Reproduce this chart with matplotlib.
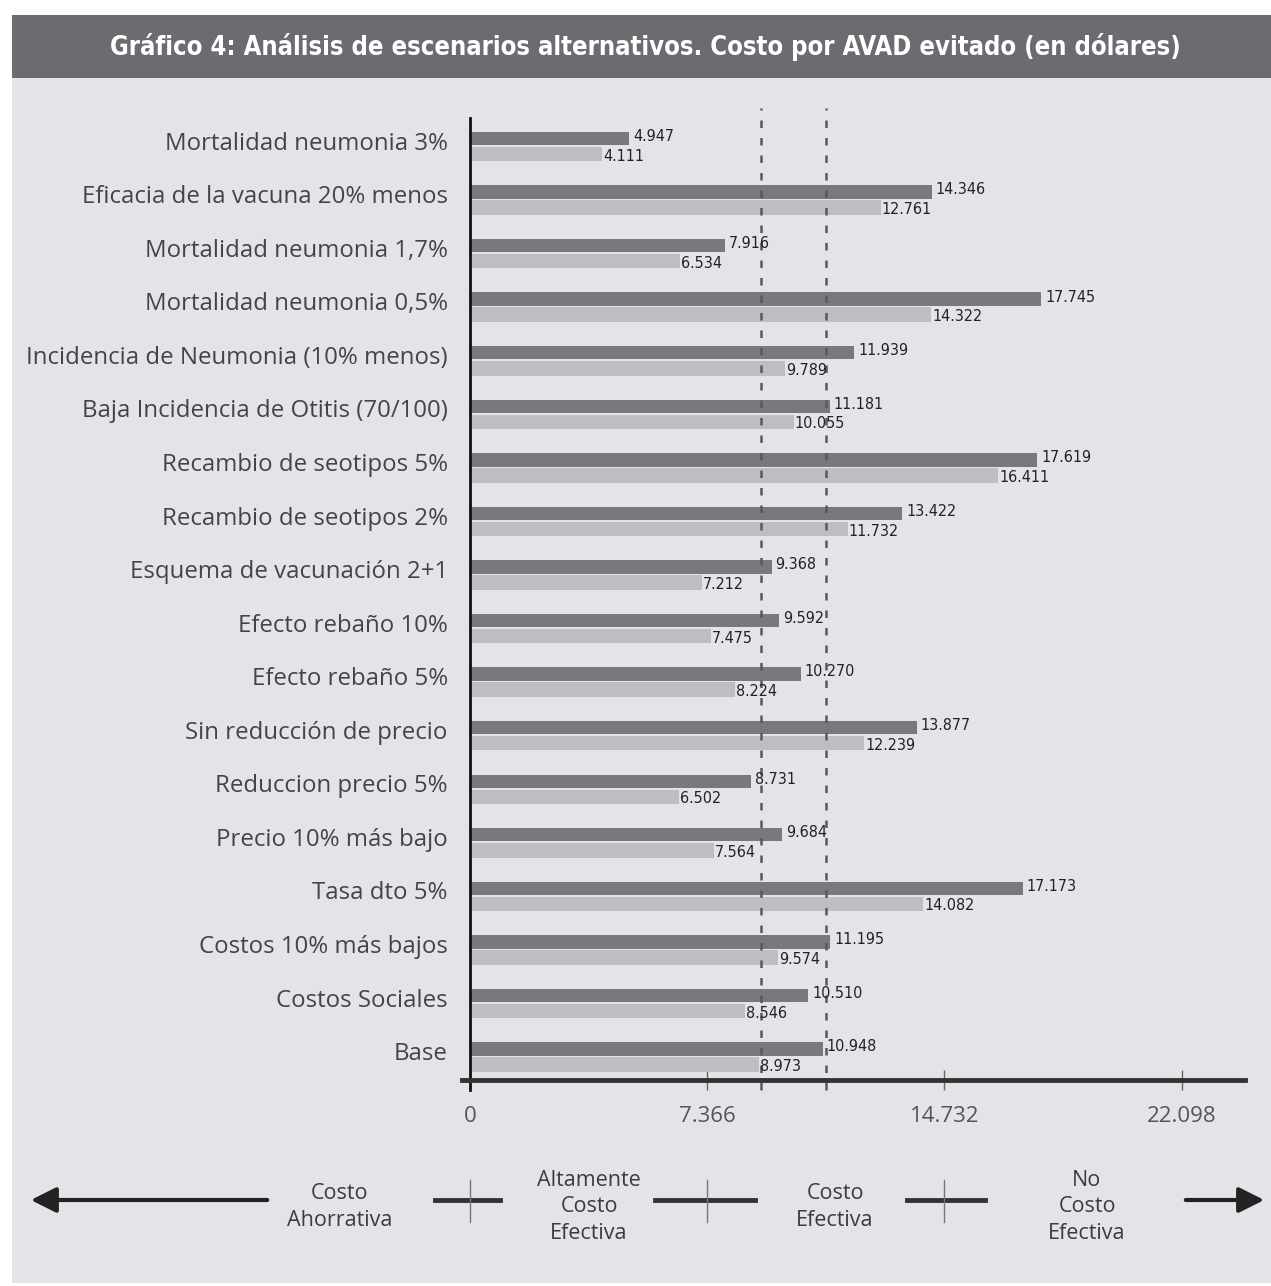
import matplotlib
matplotlib.use("Agg")
import matplotlib.pyplot as plt
from matplotlib.patches import Rectangle, FancyArrowPatch
from matplotlib.lines import Line2D
import matplotlib.transforms as mtransforms

# Scenario data (cost per DALY averted, thousands of dollars)
categories = [
    "Mortalidad neumonia 3%",
    "Eficacia de la vacuna 20% menos",
    "Mortalidad neumonia 1,7%",
    "Mortalidad neumonia 0,5%",
    "Incidencia de Neumonia (10% menos)",
    "Baja Incidencia de Otitis (70/100)",
    "Recambio de seotipos 5%",
    "Recambio de seotipos 2%",
    "Esquema de vacunación 2+1",
    "Efecto rebaño 10%",
    "Efecto rebaño 5%",
    "Sin reducción de precio",
    "Reduccion precio 5%",
    "Precio 10% más bajo",
    "Tasa dto 5%",
    "Costos 10% más bajos",
    "Costos Sociales",
    "Base",
]
series_dark = [4.947, 14.346, 7.916, 17.745, 11.939, 11.181, 17.619, 13.422,
               9.368, 9.592, 10.270, 13.877, 8.731, 9.684, 17.173, 11.195,
               10.510, 10.948]
series_light = [4.111, 12.761, 6.534, 14.322, 9.789, 10.055, 16.411, 11.732,
                7.212, 7.475, 8.224, 12.239, 6.502, 7.564, 14.082, 9.574,
                8.546, 8.973]
x_ticks = [7.366, 14.732, 22.098]
x_tick_labels = ["0", "7.366", "14.732", "22.098"]
thresholds = [9.05, 11.05]
zones = ["Costo\nAhorrativa", "Altamente\nCosto\nEfectiva", "Costo\nEfectiva",
         "No\nCosto\nEfectiva"]

W, H = 1271, 1286
BG = "#e4e4e8"
DARK = "#78787d"
LIGHT = "#bdbdc2"
TEXT = "#444448"
NARROW = "DejaVu Sans"
LABEL_FONT = ["Open Sans", "DejaVu Sans"]


def fx(px):
    return px / W


def fy(py):
    return 1 - py / H


fig = plt.figure(figsize=(W / 100, H / 100), dpi=100)
fig.patch.set_facecolor("white")
renderer = fig.canvas.get_renderer()

# Panel background and title band
fig.add_artist(Rectangle((fx(12), fy(1283)), 1 - fx(12), fy(78) - fy(1283),
                         transform=fig.transFigure, facecolor=BG, edgecolor="none", zorder=0))
fig.add_artist(Rectangle((fx(12), fy(78)), 1 - fx(12), fy(15) - fy(78),
                         transform=fig.transFigure, facecolor="#6b6b70", edgecolor="none", zorder=0))
title = fig.text(fx(645), fy(47),
                 "Gráfico 4: Análisis de escenarios alternativos. Costo por AVAD evitado (en dólares)",
                 color="white", fontsize=20, fontweight="bold", family=NARROW,
                 fontstretch="condensed", ha="center", va="center")
# shrink the title so it spans the band like a condensed face would
tw = title.get_window_extent(renderer).width
title.set_fontsize(20 * min(1.0, 1075 / tw))

ax = fig.add_axes([fx(470), fy(1080), fx(1245) - fx(470), fy(118) - fy(1080)])
ax.set_facecolor("none")

n = len(categories)
ypos = [n - 1 - i for i in range(n)]
light_off = 0.29

ax.barh(ypos, series_dark, height=0.25, color=DARK, zorder=2)
ax.barh([y - light_off for y in ypos], series_light, height=0.27, color=LIGHT, zorder=2)

for y, vd, vl in zip(ypos, series_dark, series_light):
    ax.text(vd + 0.12, y + 0.04, f"{vd:.3f}", fontsize=11.5, family=NARROW,
            fontstretch="condensed", color="#222", ha="left", va="center", zorder=4)
    ax.text(vl + 0.03, y - light_off - 0.04, f"{vl:.3f}", fontsize=11.5, family=NARROW,
            fontstretch="condensed", color="#222", ha="left", va="center", zorder=4)

for t in thresholds:
    ax.axvline(t, ymin=-0.01, ymax=1.01, color="#59595d", lw=1.8,
               linestyle=(0, (3, 4)), zorder=3, clip_on=False)

ax.set_xlim(0, 24.07)
ax.set_ylim(-0.579, n - 1 + 0.383)

ax.set_yticks([y - 0.04 for y in ypos])
ax.set_yticklabels(categories, fontsize=17.3, color=TEXT, family=LABEL_FONT)
ax.tick_params(axis="y", length=0, pad=16)

ax.set_xticks([0] + x_ticks)
ax.set_xticklabels(x_tick_labels, fontsize=16, color="#555559", family=LABEL_FONT)
ax.tick_params(axis="x", direction="inout", length=14, width=1, color="#666", pad=12)

for s in ["top", "right"]:
    ax.spines[s].set_visible(False)
ax.spines["left"].set_color("#111")
ax.spines["left"].set_linewidth(2)
ax.spines["left"].set_bounds(-0.579 - 0.18, n - 1 + 0.383)
ax.spines["bottom"].set_color("#333")
ax.spines["bottom"].set_linewidth(3.5)
ax.spines["bottom"].set_bounds(-0.25, 24.07)

# Classification strip below the axis
ly = fy(1200)
arrow_kw = dict(transform=fig.transFigure, color="#222", lw=3,
                mutation_scale=22, arrowstyle="-|>,head_length=0.7,head_width=0.35")
fig.add_artist(FancyArrowPatch((fx(270), ly), (fx(28), ly), **arrow_kw))
fig.add_artist(FancyArrowPatch((fx(1183), ly), (fx(1267), ly), **arrow_kw))
for a, b in [(435, 500), (655, 755), (907, 985)]:
    fig.add_artist(Line2D([fx(a), fx(b)], [ly, ly], transform=fig.transFigure,
                          color="#333", lw=3.5))

blend = mtransforms.blended_transform_factory(ax.transData, fig.transFigure)
for t in [0] + x_ticks[:2]:
    fig.add_artist(Line2D([t, t], [fy(1180), fy(1222)], transform=blend,
                          color="#777", lw=1))

zone_x = [340, 589, 835, 1087]
zone_y = [1207, 1207, 1207, 1207]
for zx, zy, label in zip(zone_x, zone_y, zones):
    fig.text(fx(zx), fy(zy), label, fontsize=15.5, color="#3c3c40", family=LABEL_FONT,
             ha="center", va="center", linespacing=1.35)

fig.savefig("out.png", dpi=100)
